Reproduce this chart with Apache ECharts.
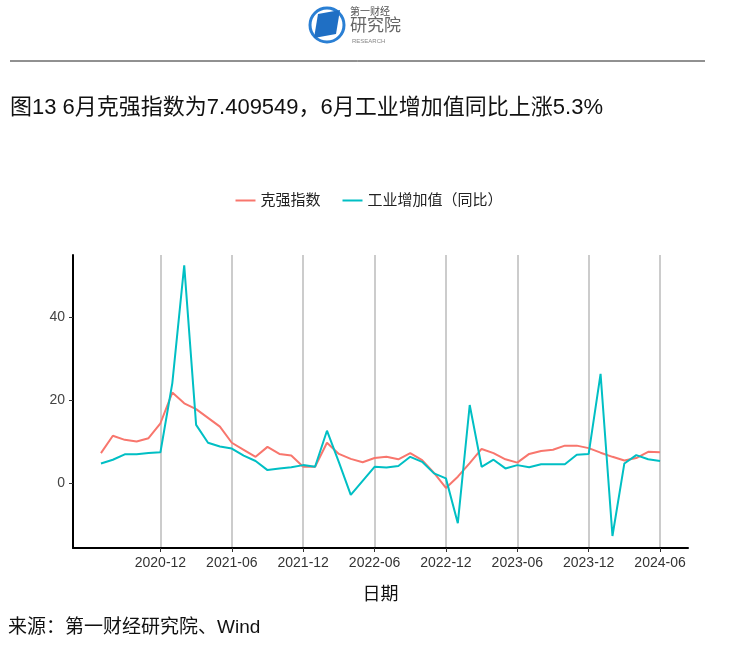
<!DOCTYPE html>
<html><head><meta charset="utf-8">
<script src="https://cdn.jsdelivr.net/npm/echarts@6/dist/echarts.min.js"></script>
<style>html,body{margin:0;padding:0;background:#fff}#c{width:738px;height:649px}</style>
</head><body><div id="c"></div>
<script>
const months = [];
for (let y = 2020; y <= 2024; y++) for (let m = 1; m <= 12; m++) {
  if ((y === 2020 && m < 7) || (y === 2024 && m > 6)) continue;
  months.push(y + '-' + String(m).padStart(2, '0'));
}
const keqiang = [7.2,11.4,10.4,10.0,10.8,14.4,
 21.8,19.2,17.8,15.7,13.6,9.7,8.0,6.3,8.7,7.0,6.6,3.9,
 3.9,9.7,7.0,5.8,5.0,6.0,6.3,5.7,7.2,5.5,2.4,-1.2,
 1.5,4.8,8.2,7.2,5.7,4.9,7.0,7.7,8.0,9.0,9.0,8.4,
 7.3,6.3,5.4,6.0,7.5,7.409549];
const industry = [4.7,5.6,6.9,6.9,7.2,7.4,
 24.1,52.5,14.0,9.7,8.8,8.3,6.6,5.3,3.1,3.5,3.8,4.3,
 3.9,12.6,5.0,-2.9,0.5,3.9,3.7,4.1,6.3,5.1,2.3,1.1,
 -9.7,18.8,3.9,5.6,3.5,4.3,3.8,4.5,4.5,4.5,6.8,7.0,
 26.3,-12.8,4.7,6.7,5.7,5.3];
const tickMonths = ['2020-12','2021-06','2021-12','2022-06','2022-12','2023-06','2023-12','2024-06'];
const yTicks = [0,20,40];
const tickIdx = tickMonths.map(t => months.indexOf(t));

const chart = echarts.init(document.getElementById('c'));
const font = 'Liberation Sans, Noto Sans CJK SC, sans-serif';
chart.setOption({
  animation:false,
  textStyle:{fontFamily:font},
  graphic:[
    {type:'line',shape:{x1:10,y1:61,x2:705,y2:61},style:{stroke:'#222',lineWidth:1}},
    {type:'circle',shape:{cx:327,cy:25,r:17},style:{fill:'none',stroke:'#2a7fd4',lineWidth:3}},
    {type:'polygon',shape:{points:[[318,14],[340,10],[336,34],[314,38]]},style:{fill:'#1f6fc4'}},
    {type:'text',left:350,top:7,style:{text:'第一财经',fontSize:10,fill:'#555',fontFamily:font}},
    {type:'text',left:350,top:18,style:{text:'研究院',fontSize:17,fill:'#666',fontFamily:font}},
    {type:'text',left:352,top:38,style:{text:'RESEARCH',fontSize:6,fill:'#888',fontFamily:font}},
    {type:'text',left:10,top:97,style:{text:'图13 6月克强指数为7.409549，6月工业增加值同比上涨5.3%',fontSize:22,fill:'#111',fontFamily:font}},
    {type:'text',left:8,top:618,style:{text:'来源：第一财经研究院、Wind',fontSize:19,fill:'#111',fontFamily:font}}
  ],
  legend:{top:188,left:'center',itemWidth:20,itemHeight:2,icon:'rect',itemGap:22,
    textStyle:{fontSize:15,color:'#222'},data:['克强指数','工业增加值（同比）']},
  grid:{left:73,right:50,top:255,bottom:101},
  xAxis:{type:'value',min:-2.35,max:49.35,
    axisLine:{show:true,onZero:false,lineStyle:{color:'#000',width:2}},
    axisTick:{show:true,customValues:tickIdx,length:4,lineStyle:{color:'#333'}},
    axisLabel:{customValues:tickIdx,formatter:v=>months[Math.round(v)],fontSize:14,color:'#333',margin:8},
    splitLine:{show:true,lineStyle:{color:'#bbb',width:1.5}},
    name:'日期',nameLocation:'middle',nameGap:38,nameTextStyle:{fontSize:18,color:'#111'}},
  yAxis:{type:'value',min:-15.7,max:55,
    axisLine:{show:true,onZero:false,lineStyle:{color:'#000',width:2}},
    axisTick:{show:true,customValues:yTicks,length:4,lineStyle:{color:'#333'}},
    axisLabel:{customValues:yTicks,fontSize:14,color:'#444',margin:8},
    splitLine:{show:false}},
  series:[
    {name:'克强指数',type:'line',showSymbol:false,color:'#f8766d',lineStyle:{width:2},
      data:keqiang.map((v,i)=>[i,v])},
    {name:'工业增加值（同比）',type:'line',showSymbol:false,color:'#00bfc4',lineStyle:{width:2},
      data:industry.map((v,i)=>[i,v])}
  ]
});
</script></body></html>
